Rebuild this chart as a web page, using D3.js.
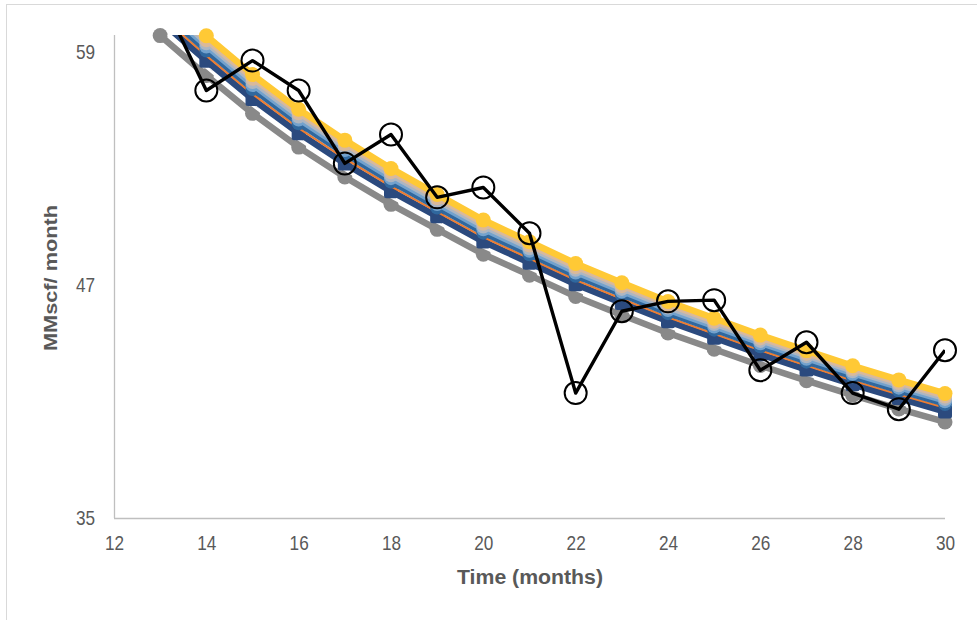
<!DOCTYPE html>
<html>
<head>
<meta charset="utf-8">
<script src="https://cdn.jsdelivr.net/npm/d3@7"></script>
<style>
  html, body { margin: 0; padding: 0; background: #fff; }
  svg { display: block; }
</style>
</head>
<body>
<svg id="chart" width="977" height="620"></svg>
<script>
// ---------- DATA ----------
const months = [13,14,15,16,17,18,19,20,21,22,23,24,25,26,27,28,29,30];

const seriesGray   = [59.87,57.81,55.86,54.12,52.58,51.17,49.88,48.60,47.52,46.42,45.47,44.54,43.70,42.86,42.08,41.33,40.62,39.95];
const seriesWhite  = [60.29,58.22,56.26,54.51,52.96,51.54,50.24,48.95,47.86,46.76,45.80,44.86,44.02,43.17,42.39,41.63,40.92,40.24];
const seriesNavy   = [60.65,58.57,56.60,54.84,53.28,51.85,50.55,49.25,48.16,47.05,46.08,45.14,44.29,43.44,42.65,41.89,41.18,40.49];
const seriesOrange = [60.92,58.84,56.86,55.10,53.53,52.10,50.78,49.48,48.38,47.27,46.30,45.35,44.50,43.65,42.86,42.09,41.37,40.69];
const seriesSteel  = [61.19,59.10,57.12,55.35,53.78,52.34,51.01,49.71,48.60,47.49,46.52,45.56,44.71,43.85,43.06,42.29,41.57,40.88];
const seriesLBlue  = [61.40,59.31,57.32,55.54,53.97,52.52,51.19,49.88,48.78,47.66,46.68,45.72,44.87,44.01,43.21,42.44,41.72,41.02];
const seriesLGray  = [61.57,59.47,57.48,55.70,54.12,52.67,51.34,50.03,48.91,47.80,46.81,45.85,45.00,44.13,43.34,42.56,41.84,41.14];
const seriesTan    = [61.74,59.63,57.64,55.86,54.27,52.82,51.48,50.17,49.05,47.93,46.95,45.98,45.12,44.26,43.46,42.68,41.96,41.26];
const seriesYellow = [61.97,59.86,57.86,56.07,54.48,53.02,51.68,50.36,49.24,48.12,47.13,46.16,45.30,44.43,43.63,42.85,42.12,41.42];

const observed     = [62.00,57.04,58.58,57.04,53.28,54.77,51.53,52.04,49.68,41.44,45.66,46.17,46.23,42.62,44.06,41.44,40.61,43.65];

const xTicks = [12,14,16,18,20,22,24,26,28,30];
const yTicks = [35,47,59];
const xTitle = "Time (months)";
const yTitle = "MMscf/ month";

// ---------- LAYOUT ----------
const svg = d3.select("#chart");
const L = 114, R = 945, T = 35, B = 518;

const x = d3.scaleLinear().domain([12, 30]).range([L, R]);
const y = d3.scaleLinear().domain([35, 59.9]).range([B, T]);

// outer frame
svg.append("rect").attr("x", 6.5).attr("y", 4.5).attr("width", 1000).attr("height", 1000)
  .attr("fill", "none").attr("stroke", "#d9d9d9").attr("stroke-width", 1);

svg.append("defs").append("clipPath").attr("id", "plotclip")
  .append("rect").attr("x", L).attr("y", T).attr("width", R - L).attr("height", B - T);

// axes
const axisFont = "'Liberation Sans Narrow', 'Arial Narrow', 'Liberation Sans', Arial, sans-serif";
const xAxis = d3.axisBottom(x).tickValues(xTicks).tickSize(0).tickPadding(18).tickFormat(d3.format("d"));
const yAxis = d3.axisLeft(y).tickValues(yTicks).tickSize(0).tickPadding(21).tickFormat(d3.format("d"));

const gx = svg.append("g").attr("transform", `translate(0,${B})`).call(xAxis);
const gy = svg.append("g").attr("transform", `translate(${L},0)`).call(yAxis);
[gx, gy].forEach(g => {
  g.select(".domain").attr("stroke", "#bfbfbf").attr("stroke-width", 1.3);
  g.selectAll("text").attr("fill", "#595959").style("font-family", axisFont).style("font-size", "20px");
});
gx.selectAll(".tick text").attr("transform", "scale(0.86,1)");
gy.selectAll(".tick text").attr("x", 0).attr("transform", "translate(-19,0) scale(0.86,1)");
gy.select(".domain").attr("d", `M0.5,${T}V${B}`);
gx.select(".domain").attr("d", `M${L},0.5H${R}`);

// titles
svg.append("text").attr("x", 530).attr("y", 584).attr("text-anchor", "middle")
  .attr("fill", "#595959").style("font-family", axisFont).style("font-size", "20px").style("font-weight", "bold")
  .attr("textLength", 146).attr("lengthAdjust", "spacingAndGlyphs")
  .text(xTitle);
svg.append("text").attr("transform", "translate(57,278) rotate(-90)").attr("text-anchor", "middle")
  .attr("fill", "#595959").style("font-family", "'Liberation Sans', Arial, sans-serif").style("font-size", "18px").style("font-weight", "bold")
  .attr("textLength", 146).attr("lengthAdjust", "spacingAndGlyphs")
  .text(yTitle);

// ---------- SERIES ----------
const line = d3.line().x((d, i) => x(months[i])).y(d => y(d));
const yMax = y.domain()[1];

const models = [
  { v: seriesGray,   color: "#898989", w: 6.5, marker: "circle", r: 7.5 },
  { v: seriesWhite,  color: "#ffffff", w: 2.5, marker: null },
  { v: seriesNavy,   color: "#2b4a7e", w: 6.5, marker: "square", r: 7 },
  { v: seriesOrange, color: "#ed7d31", w: 2.2, marker: null },
  { v: seriesSteel,  color: "#30689e", w: 6,   marker: "circle", r: 7 },
  { v: seriesLBlue,  color: "#73a2cd", w: 5.5, marker: "circle", r: 7 },
  { v: seriesLGray,  color: "#adb6c2", w: 5,   marker: "circle", r: 7 },
  { v: seriesTan,    color: "#d9b99b", w: 5,   marker: "circle", r: 7 },
  { v: seriesYellow, color: "#ffc935", w: 6.5, marker: "circle", r: 7.5 }
];

const plot = svg.append("g");
models.forEach(s => {
  plot.append("path").datum(s.v).attr("clip-path", "url(#plotclip)")
    .attr("d", line).attr("fill", "none").attr("stroke", s.color)
    .attr("stroke-width", s.w).attr("stroke-linejoin", "round");
  const pts = s.v.map((d, i) => ({ m: months[i], v: d })).filter(p => p.v <= yMax);
  if (s.marker === "circle") {
    plot.append("g").selectAll("circle").data(pts).join("circle")
      .attr("cx", p => x(p.m)).attr("cy", p => y(p.v)).attr("r", s.r).attr("fill", s.color);
  } else if (s.marker === "square") {
    plot.append("g").selectAll("rect").data(pts).join("rect")
      .attr("x", p => x(p.m) - s.r).attr("y", p => y(p.v) - s.r).attr("width", 2 * s.r).attr("height", 2 * s.r)
      .attr("rx", 2.5).attr("fill", s.color);
  }
});

// observed series
plot.append("path").datum(observed).attr("clip-path", "url(#plotclip)")
  .attr("d", line).attr("fill", "none").attr("stroke", "#000").attr("stroke-width", 3.4)
  .attr("stroke-linejoin", "round");
const obsPts = observed.map((d, i) => ({ m: months[i], v: d })).filter(p => p.v <= yMax);
plot.append("g").selectAll("circle").data(obsPts).join("circle")
  .attr("cx", p => x(p.m)).attr("cy", p => y(p.v)).attr("r", 11)
  .attr("fill", "none").attr("stroke", "#000").attr("stroke-width", 2);
</script>
</body>
</html>
